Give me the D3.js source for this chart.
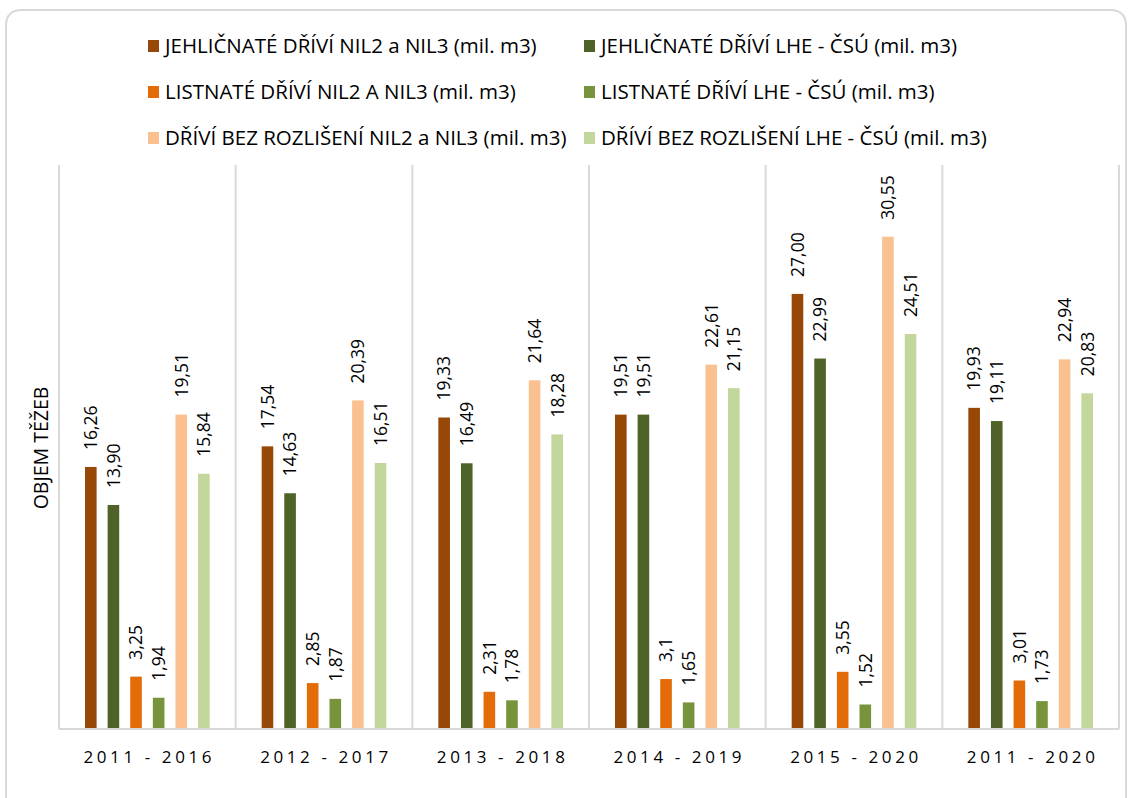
<!DOCTYPE html>
<html>
<head>
<meta charset="utf-8">
<script src="https://cdn.jsdelivr.net/npm/d3@7"></script>
<style>
  body { margin: 0; background: #fff; }
  text { font-family: "Open Sans", sans-serif; fill: #000; }
</style>
</head>
<body>
<svg id="mainsvg" width="1131" height="798"></svg>
<script>
const svg = d3.select('#mainsvg')
const width = +svg.attr('width')
const height = +svg.attr('height')

// data
const periods = ['2011 - 2016', '2012 - 2017', '2013 - 2018', '2014 - 2019', '2015 - 2020', '2011 - 2020']
const seriesNames = [
  'JEHLIČNATÉ DŘÍVÍ NIL2 a NIL3 (mil. m3)',
  'JEHLIČNATÉ DŘÍVÍ LHE - ČSÚ (mil. m3)',
  'LISTNATÉ DŘÍVÍ NIL2 A NIL3 (mil. m3)',
  'LISTNATÉ DŘÍVÍ LHE - ČSÚ (mil. m3)',
  'DŘÍVÍ BEZ ROZLIŠENÍ NIL2 a NIL3 (mil. m3)',
  'DŘÍVÍ BEZ ROZLIŠENÍ LHE - ČSÚ (mil. m3)'
]
const colors = ['#974706', '#4f6228', '#e36c09', '#77933c', '#fac090', '#c3d69b']
// labels exactly as printed (Czech decimal comma)
const jehlNil = ['16,26', '17,54', '19,33', '19,51', '27,00', '19,93']
const jehlLhe = ['13,90', '14,63', '16,49', '19,51', '22,99', '19,11']
const listNil = ['3,25', '2,85', '2,31', '3,1', '3,55', '3,01']
const listLhe = ['1,94', '1,87', '1,78', '1,65', '1,52', '1,73']
const bezNil = ['19,51', '20,39', '21,64', '22,61', '30,55', '22,94']
const bezLhe = ['15,84', '16,51', '18,28', '21,15', '24,51', '20,83']
const seriesValues = [jehlNil, jehlLhe, listNil, listLhe, bezNil, bezLhe]

const toNum = s => +s.replace(',', '.')

// card frame (bottom runs off the picture like in the original)
svg.append('path')
  .attr('d', `M6,${height + 2} V26 Q6,10 22,10 H1110 Q1126,10 1126,26 V${height + 2}`)
  .attr('fill', '#fff')
  .attr('stroke', '#d9d9d9')
  .attr('stroke-width', 2)

const margin = { top: 165, right: 12, left: 59, bottom: 69 }
const innerWidth = width - margin.left - margin.right
const innerHeight = height - margin.top - margin.bottom
const g = svg.append('g').attr('id', 'maingroup')
  .attr('transform', `translate(${margin.left}, ${margin.top})`)

const x0 = d3.scaleBand().domain(periods).range([0, innerWidth])
const x1 = d3.scaleBand().domain(d3.range(seriesNames.length))
  .range([0, x0.bandwidth()]).paddingInner(0.487).paddingOuter(1.15)
const y = d3.scaleLinear().domain([0, 35]).range([innerHeight, 0])

// vertical separators between categories
g.selectAll('.sep').data(d3.range(periods.length + 1)).join('line')
  .attr('class', 'sep')
  .attr('x1', i => i * x0.step()).attr('x2', i => i * x0.step())
  .attr('y1', 0).attr('y2', innerHeight)
  .attr('stroke', '#d9d9d9').attr('stroke-width', 2)

// bars
const groups = g.selectAll('.grp').data(periods).join('g')
  .attr('class', 'grp')
  .attr('transform', p => `translate(${x0(p)},0)`)

const cells = groups.selectAll('.cell')
  .data((p, pi) => seriesValues.map((vals, si) => ({ si, label: vals[pi], v: toNum(vals[pi]) })))
  .join('g').attr('class', 'cell')

cells.append('rect')
  .attr('x', d => x1(d.si))
  .attr('width', x1.bandwidth())
  .attr('y', d => y(d.v))
  .attr('height', d => innerHeight - y(d.v))
  .attr('fill', d => colors[d.si])

cells.append('text')
  .attr('transform', d => `translate(${x1(d.si) + x1.bandwidth() / 2},${y(d.v) - 17}) rotate(-90)`)
  .attr('dy', '0.36em')
  .attr('font-size', 17.5)
  .text(d => d.label)

// x axis baseline
g.append('line')
  .attr('x1', 0).attr('x2', innerWidth)
  .attr('y1', innerHeight).attr('y2', innerHeight)
  .attr('stroke', '#d9d9d9').attr('stroke-width', 2)

// category labels
g.selectAll('.xlab').data(periods).join('text')
  .attr('class', 'xlab')
  .attr('x', p => x0(p) + x0.bandwidth() / 2 + 2)
  .attr('y', innerHeight + 34)
  .attr('text-anchor', 'middle')
  .attr('font-size', 17)
  .attr('letter-spacing', 3.6)
  .text(p => p)

// y axis title
svg.append('text')
  .attr('transform', 'translate(41,448) rotate(-90)')
  .attr('text-anchor', 'middle')
  .attr('dy', '0.36em')
  .attr('font-size', 19.5)
  .text('OBJEM TĚŽEB')

// legend, two columns, three rows
const legendX = [148, 584]
const legendY = [46, 92, 138]
const legend = svg.selectAll('.leg').data(seriesNames).join('g')
  .attr('class', 'leg')
  .attr('transform', (d, i) => `translate(${legendX[i % 2]},${legendY[Math.floor(i / 2)]})`)
legend.append('rect')
  .attr('x', 0).attr('y', -6)
  .attr('width', 11).attr('height', 12)
  .attr('fill', (d, i) => colors[i])
legend.append('text')
  .attr('x', 17)
  .attr('dy', '0.36em')
  .attr('font-size', 20.5)
  .text(d => d)
</script>
</body>
</html>
